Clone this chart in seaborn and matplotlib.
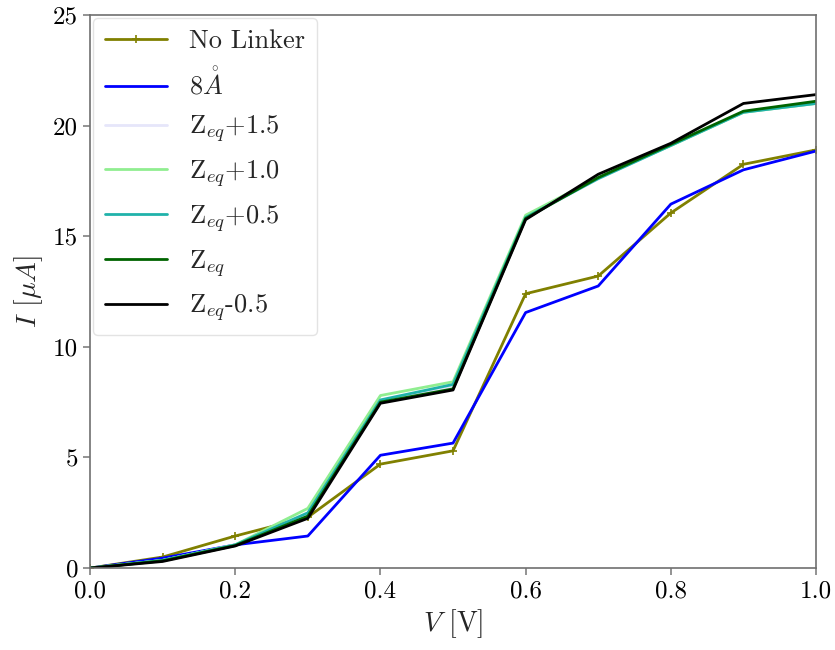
import numpy as np
import pandas as pd
import matplotlib
matplotlib.use("Agg")
import matplotlib.pyplot as plt
import seaborn as sns

# Bias voltage sweep (V)
voltage = [0.0, 0.1, 0.2, 0.3, 0.4, 0.5, 0.6, 0.7, 0.8, 0.9, 1.0]

# Current (uA) for each junction configuration
no_linker = [0.0, 0.5, 1.45, 2.3, 4.7, 5.3, 12.4, 13.2, 16.05, 18.25, 18.9]
linker_8a = [0.0, 0.45, 1.05, 1.45, 5.1, 5.65, 11.55, 12.75, 16.45, 18.0, 18.85]
zeq_p15 = [0.0, 0.35, 1.05, 2.45, 7.55, 8.2, 15.8, 17.6, 19.1, 20.6, 21.0]
zeq_p10 = [0.0, 0.35, 1.05, 2.7, 7.8, 8.42, 15.95, 17.65, 19.1, 20.6, 21.0]
zeq_p05 = [0.0, 0.35, 1.05, 2.5, 7.6, 8.3, 15.85, 17.6, 19.1, 20.6, 21.0]
zeq = [0.0, 0.33, 1.02, 2.35, 7.5, 8.1, 15.8, 17.65, 19.15, 20.65, 21.1]
zeq_m05 = [0.0, 0.3, 1.0, 2.25, 7.45, 8.05, 15.75, 17.8, 19.2, 21.0, 21.4]

series_labels = ["No Linker", r"$8\mathring{A}$", r"Z$_{eq}$+1.5", r"Z$_{eq}$+1.0",
                 r"Z$_{eq}$+0.5", r"Z$_{eq}$", r"Z$_{eq}$-0.5"]
series_values = [no_linker, linker_8a, zeq_p15, zeq_p10, zeq_p05, zeq, zeq_m05]
series_colors = ["olive", "blue", "lavender", "lightgreen", "lightseagreen", "darkgreen", "black"]

sns.set_style("white")
plt.rcParams["font.family"] = ["serif"]
plt.rcParams["font.serif"] = ["cmr10", "DejaVu Serif"]
plt.rcParams["mathtext.fontset"] = "cm"
plt.rcParams["axes.formatter.use_mathtext"] = True

fig = plt.figure(figsize=(8.35, 6.5), dpi=100)
ax = fig.add_axes([0.1078, 0.126, 0.8695, 0.851])

for label, values, color in zip(series_labels, series_values, series_colors):
    df = pd.DataFrame({"V": voltage, "I": values})
    marker = "+" if label == "No Linker" else None
    sns.lineplot(data=df, x="V", y="I", ax=ax, color=color, linewidth=2,
                 marker=marker, markersize=6, markeredgewidth=1.2,
                 markeredgecolor=color, label=label)

ax.set_xlim(0, 1.0)
ax.set_ylim(0, 25)
ax.set_xticks([0.0, 0.2, 0.4, 0.6, 0.8, 1.0])
ax.set_yticks([0, 5, 10, 15, 20, 25])
ax.set_xticklabels(["0.0", "0.2", "0.4", "0.6", "0.8", "1.0"])
ax.set_yticklabels(["0", "5", "10", "15", "20", "25"])
ax.set_xlabel(r"$V$ [V]", fontsize=20, labelpad=4)
ax.set_ylabel(r"$I$ [$\mu A$]", fontsize=20, labelpad=6)

for side in ["left", "right", "top", "bottom"]:
    ax.spines[side].set_color("#707070")
    ax.spines[side].set_linewidth(1.2)
ax.tick_params(axis="both", direction="out", length=5, width=1.2, color="#808080",
               labelsize=18, labelcolor="black", bottom=True, left=True)

leg = ax.legend(loc="upper left", fontsize=19, frameon=True, fancybox=True,
                handlelength=2.35, handletextpad=0.85, borderaxespad=0.1,
                labelspacing=0.52, borderpad=0.45)
leg.get_frame().set_edgecolor("#dddddd")

fig.savefig("out.png", dpi=100)
